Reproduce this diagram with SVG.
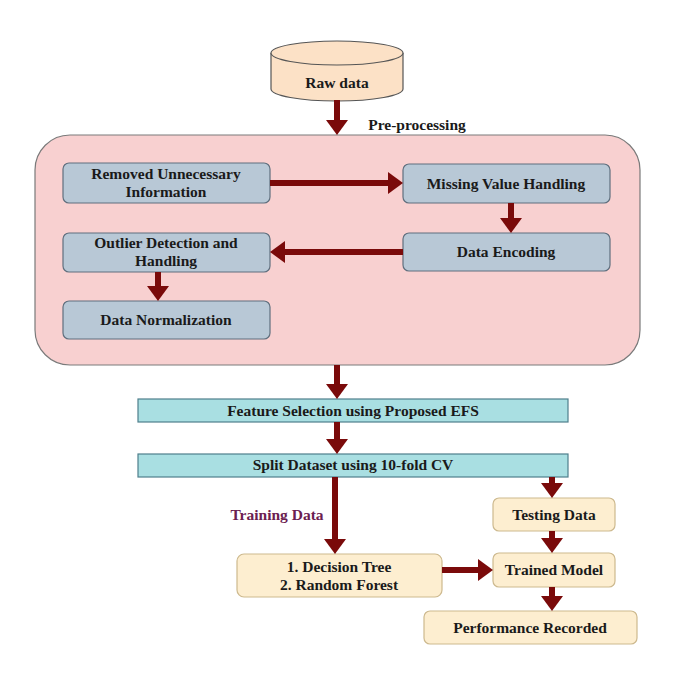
<svg xmlns="http://www.w3.org/2000/svg" width="675" height="675" viewBox="0 0 675 675">
<defs>
<marker id="ah" viewBox="0 0 15 22" refX="0" refY="11" markerWidth="15" markerHeight="22" markerUnits="userSpaceOnUse" orient="auto">
<path d="M0,0 L15,11 L0,22 z" fill="#7a0a0a"/>
</marker>
<style>
text{font-family:"Liberation Serif","Times New Roman",serif;font-weight:bold;font-size:15.5px;fill:#1a1a1a;text-anchor:middle}
.blue{fill:#b8c8d6;stroke:#5f6f7e;stroke-width:1.2}
.cyan{fill:#a9dfe2;stroke:#4f7f8c;stroke-width:1.2}
.yel{fill:#fdeed0;stroke:#cdb98e;stroke-width:1.2}
.arr{stroke:#7a0a0a;stroke-width:6;fill:none;marker-end:url(#ah)}
</style>
</defs>
<rect width="675" height="675" fill="#ffffff"/>
<g id="preprocessing">
<rect x="35" y="135" width="605" height="230" rx="35" ry="35" fill="#f8d0d0" stroke="#7a7a7a" stroke-width="1.2"/>
<text x="417" y="130">Pre-processing</text>
</g>
<g id="rawdata">
<path d="M271,53 L271,89 A66,12 0 0 0 403,89 L403,53" fill="#fce1c6" stroke="#555" stroke-width="1.2"/>
<ellipse cx="337" cy="53" rx="66" ry="12" fill="#fce1c6" stroke="#555" stroke-width="1.2"/>
<text x="337" y="88">Raw data</text>
</g>
<g id="removed">
<rect class="blue" x="63" y="163" width="207" height="40" rx="6"/>
<text x="166" y="179">Removed Unnecessary</text>
<text x="166" y="197">Information</text>
</g>
<g id="missing">
<rect class="blue" x="403" y="164" width="207" height="39" rx="6"/>
<text x="506" y="189">Missing Value Handling</text>
</g>
<g id="encoding">
<rect class="blue" x="403" y="233" width="207" height="38" rx="6"/>
<text x="506" y="257">Data Encoding</text>
</g>
<g id="outlier">
<rect class="blue" x="63" y="233" width="207" height="39" rx="6"/>
<text x="166" y="248">Outlier Detection and</text>
<text x="166" y="266">Handling</text>
</g>
<g id="normalization">
<rect class="blue" x="63" y="301" width="207" height="38" rx="6"/>
<text x="166" y="325">Data Normalization</text>
</g>
<g id="feature">
<rect class="cyan" x="138" y="399" width="430" height="23"/>
<text x="353" y="416">Feature Selection using Proposed EFS</text>
</g>
<g id="split">
<rect class="cyan" x="138" y="454" width="430" height="23"/>
<text x="353" y="470">Split Dataset using 10-fold CV</text>
</g>
<g id="training-label">
<text x="277" y="520" style="fill:#6b2050">Training Data</text>
</g>
<g id="classifiers">
<rect class="yel" x="237" y="554" width="205" height="43" rx="7"/>
<text x="339" y="572">1. Decision Tree</text>
<text x="339" y="590">2. Random Forest</text>
</g>
<g id="testing">
<rect class="yel" x="493" y="498" width="122" height="33" rx="6"/>
<text x="554" y="520">Testing Data</text>
</g>
<g id="trained">
<rect class="yel" x="493" y="553" width="122" height="34" rx="6"/>
<text x="554" y="575">Trained Model</text>
</g>
<g id="performance">
<rect class="yel" x="424" y="611" width="213" height="33" rx="6"/>
<text x="530" y="633">Performance Recorded</text>
</g>
<g id="connectors">
<line class="arr" x1="337" y1="100" x2="337" y2="120"/>
<line class="arr" x1="270" y1="183" x2="388" y2="183"/>
<line class="arr" x1="511" y1="203" x2="511" y2="218"/>
<line class="arr" x1="403" y1="252" x2="285" y2="252"/>
<line class="arr" x1="158" y1="272" x2="158" y2="286"/>
<line class="arr" x1="337" y1="365" x2="337" y2="384"/>
<line class="arr" x1="337" y1="422" x2="337" y2="439"/>
<line class="arr" x1="335" y1="477" x2="335" y2="539"/>
<line class="arr" x1="552" y1="477" x2="552" y2="483"/>
<line class="arr" x1="552" y1="531" x2="552" y2="538"/>
<line class="arr" x1="442" y1="570" x2="478" y2="570"/>
<line class="arr" x1="552" y1="587" x2="552" y2="596"/>
</g>
</svg>
